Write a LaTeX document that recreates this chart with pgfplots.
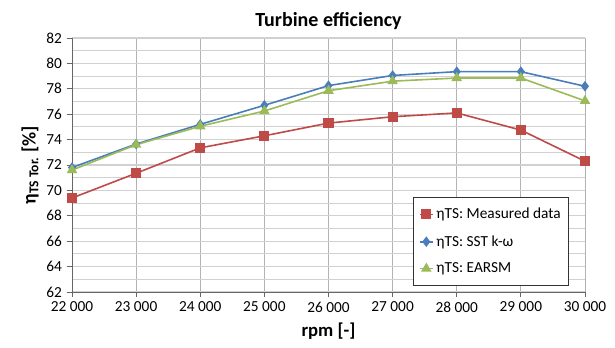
\documentclass[border=0pt]{standalone}
\usepackage{pgfplots}
\pgfplotsset{compat=1.18}
\usepackage{fontspec}
\setmainfont{Carlito}
\setsansfont{Carlito}
\definecolor{cred}{HTML}{BE4B48}
\definecolor{cblue}{HTML}{4A7EBB}
\definecolor{cgreen}{HTML}{9BBB59}
\begin{document}
\begin{tikzpicture}[x=1pt,y=1pt]
\useasboundingbox (-54,-41.25) rectangle (407.25,219);
\begin{axis}[
  at={(0,0)}, anchor=south west,
  scale only axis, width=384.75pt, height=190.5pt,
  xmin=22000, xmax=30000, ymin=62, ymax=82,
  scaled x ticks=false,
  xtick={22000,23000,...,30000},
  xticklabels={22 000,23 000,24 000,25 000,26 000,27 000,28 000,29 000,30 000},
  ytick={62,64,...,82},
  minor ytick={63,65,...,81},
  /pgf/number format/assume math mode=true,
  tick label style={font=\fontsize{11.5}{13}\selectfont, color=black},
  axis lines=left,
  axis line style={-, draw=gray!80!black, line width=0.6pt},
  tick style={draw=gray!80!black, line width=0.6pt},
  major tick length=4pt, minor tick length=0pt,
  tick align=outside,
  xmajorgrids, ymajorgrids, yminorgrids,
  major x grid style={draw=black!30, line width=0.6pt},
  major y grid style={draw=black!18, line width=0.8pt},
  minor y grid style={draw=black!18, line width=0.8pt},
  title={\textbf{Turbine efficiency}},
  title style={font=\fontsize{15}{17}\selectfont, yshift=-3pt},
  xlabel={\textbf{rpm [-]}},
  xlabel style={font=\fontsize{14}{16}\selectfont, yshift=-1pt},
  ylabel={\textbf{η\textsubscript{TS Tor.} [\%]}},
  ylabel style={font=\fontsize{14.5}{16}\selectfont, yshift=-1pt},
  legend style={at={(0.665,0.374)}, anchor=north west, draw=black!80, line width=0.6pt,
    font=\fontsize{11.5}{13}\selectfont, row sep=7pt, inner xsep=4pt, inner ysep=6pt, cells={anchor=west}},
  legend image code/.code={\draw[#1] (0pt,0pt) -- (10pt,0pt); \draw[#1, mark repeat=1] plot coordinates {(5pt,0pt)};},
  legend cell align=left,
]
\addplot[cred, line width=1.2pt, mark=square*, mark size=3.2pt, mark options={solid}] coordinates {
(22000,69.4) (23000,71.35) (24000,73.35) (25000,74.3) (26000,75.3) (27000,75.8) (28000,76.1) (29000,74.75) (30000,72.3)};
\addlegendentry{ηTS: Measured data}
\addplot[cblue, line width=1.2pt, mark=diamond*, mark size=3pt] coordinates {
(22000,71.8) (23000,73.65) (24000,75.2) (25000,76.7) (26000,78.25) (27000,79.05) (28000,79.35) (29000,79.35) (30000,78.2)};
\addlegendentry{ηTS: SST k-ω}
\addplot[cgreen, line width=1.2pt, mark=triangle*, mark size=3.4pt] coordinates {
(22000,71.6) (23000,73.6) (24000,75.05) (25000,76.25) (26000,77.85) (27000,78.6) (28000,78.85) (29000,78.85) (30000,77.05)};
\addlegendentry{ηTS: EARSM}
\end{axis}
\end{tikzpicture}
\end{document}
